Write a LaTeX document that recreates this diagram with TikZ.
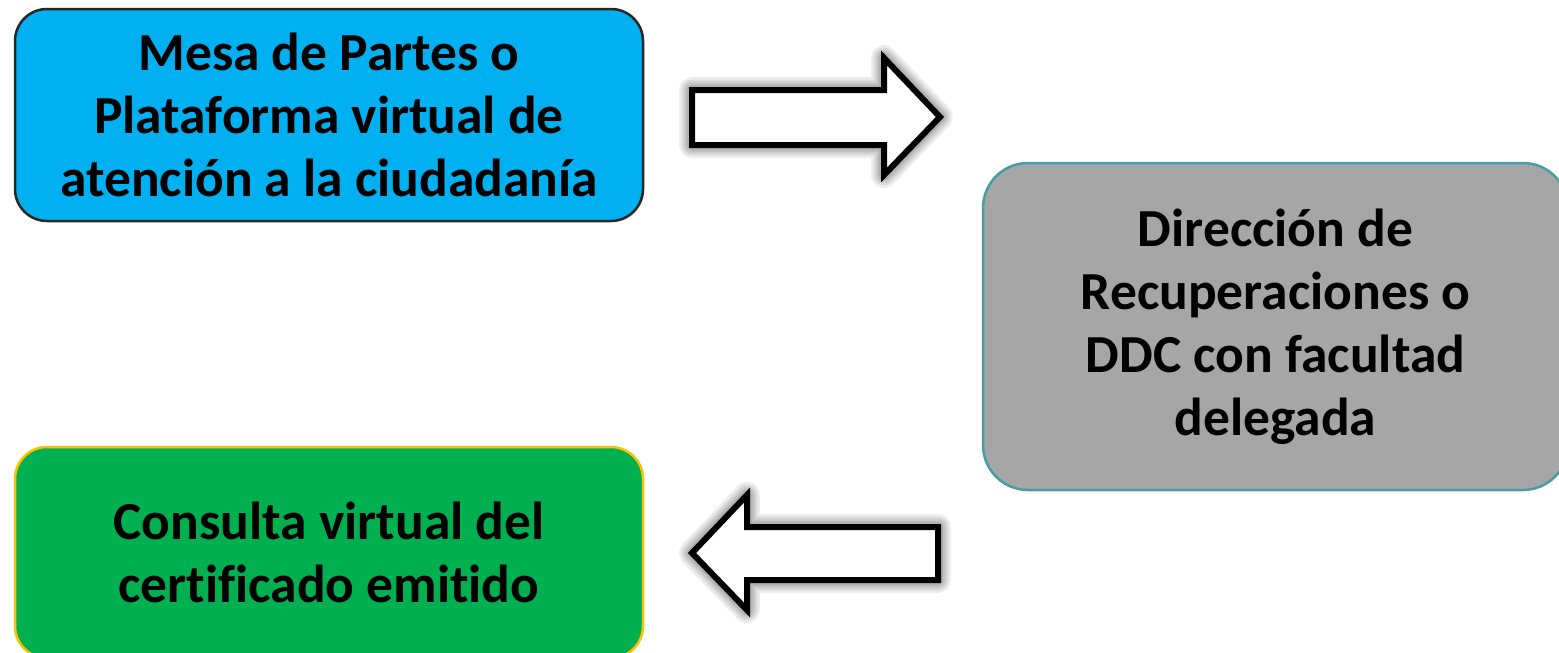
\documentclass[tikz,border=0pt]{standalone}
\usepackage{fontspec}
\setmainfont{Carlito}[Ligatures={NoCommon}]
\definecolor{boxblue}{HTML}{00B0F0}
\definecolor{boxgray}{HTML}{A6A6A6}
\definecolor{boxgreen}{HTML}{00B050}
\definecolor{edgeteal}{HTML}{4A9CA3}
\definecolor{edgegold}{HTML}{FFC000}
\definecolor{edgedark}{HTML}{262626}
\begin{document}
\begin{tikzpicture}[x=1pt,y=-1pt,
  box/.style={rectangle, inner sep=0pt, align=center, line width=2.5pt,
    font=\fontsize{53.5}{63}\selectfont\bfseries},
  glow/.style={preaction={draw=black, line width=#1, opacity=0.07, line join=round}},
  bigarrow/.style={glow=26pt, glow=21pt, glow=17pt, glow=13pt, glow=10pt,
    draw=black, fill=white, line width=6pt, line join=miter}]
\useasboundingbox (0,0) rectangle (1559,653);
\clip (0,0) rectangle (1559,653);
\node[box, fill=boxblue, draw=edgedark, rounded corners=32pt,
  minimum width=628pt, minimum height=212pt] (mesa) at (329,115)
  {Mesa de Partes o\\Plataforma virtual de\\atención a la ciudadanía};
\node[box, fill=boxgray, draw=edgeteal, rounded corners=45pt,
  minimum width=585pt, minimum height=327pt] (dir) at (1275.5,326.5)
  {Dirección de\\Recuperaciones o\\DDC con facultad\\delegada};
\node[box, fill=boxgreen, draw=edgegold, rounded corners=32pt,
  minimum width=628pt, minimum height=211pt] (cons) at (329,552.5)
  {Consulta virtual del\\certificado emitido};
\path[bigarrow] (692,90) -- (884,90) -- (884,58) -- (940,117) -- (884,175) -- (884,145) -- (692,145) -- cycle;
\path[bigarrow] (938,527) -- (747,527) -- (747,495) -- (692,553) -- (747,610) -- (747,580) -- (938,580) -- cycle;
\end{tikzpicture}
\end{document}
